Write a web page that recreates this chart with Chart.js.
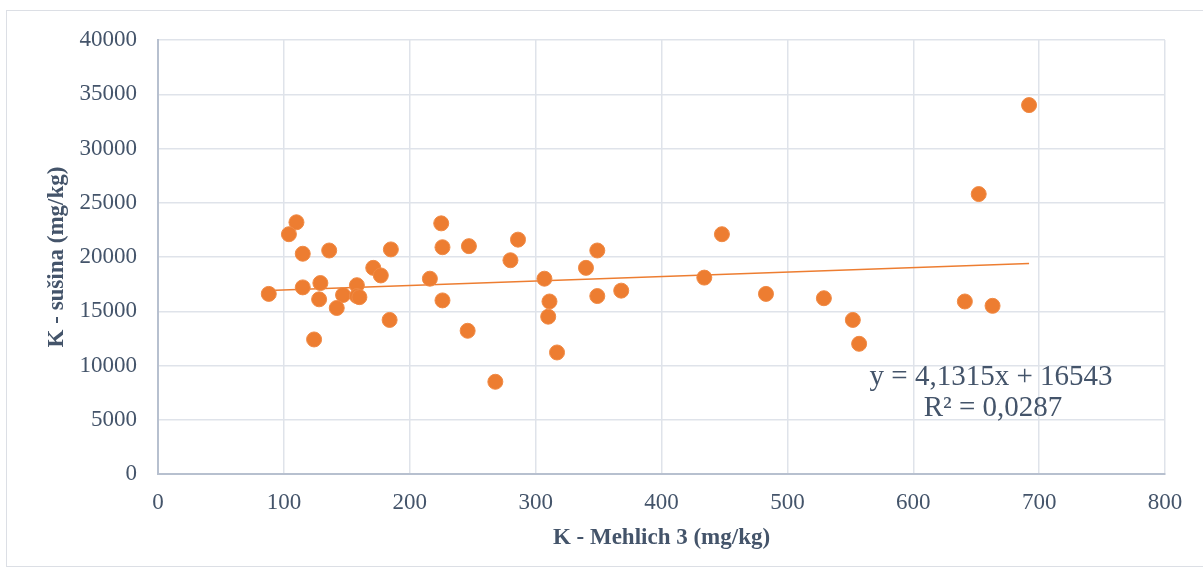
<!DOCTYPE html>
<html>
<head>
<meta charset="utf-8">
<script src="https://cdn.jsdelivr.net/npm/chart.js@4"></script>
<style>
  html, body { margin: 0; padding: 0; background: #fff; overflow: hidden; }
  #wrap { position: absolute; left: 0; top: 0; width: 1203px; height: 576px; overflow: hidden; }
  #frame { position: absolute; left: 6px; top: 10px; width: 1205px; height: 555px; border: 1px solid #dcdfe5; }
  canvas { position: absolute; left: 0; top: 0; }
</style>
</head>
<body>
<div id="wrap">
  <div id="frame"></div>
  <canvas id="chart" width="1203" height="576"></canvas>
</div>
<script>
// K - Mehlich 3 (mg/kg)
const xVals = [88, 110, 104, 115, 136, 185, 225, 226, 247, 171, 177, 216, 115, 129, 158, 128, 147, 158, 160, 142,
  226, 184, 246, 124, 268, 286, 280, 307, 311, 310, 317, 340, 349, 349, 368, 434, 448, 692, 652, 483, 529, 552, 557, 641, 663];
// K - sušina (mg/kg)
const yVals = [16600, 23200, 22100, 20300, 20600, 20700, 23100, 20900, 21000, 19000, 18300, 18000, 17200, 17600, 17400, 16100, 16500, 16400, 16300, 15300,
  16000, 14200, 13200, 12400, 8500, 21600, 19700, 18000, 15900, 14500, 11200, 19000, 20600, 16400, 16900, 18100, 22100, 34000, 25800, 16600, 16200, 14200, 12000, 15900, 15500];

// linear trend from the chart's equation
const trendSlope = 4.1315;
const trendIntercept = 16543;
const trendLabel = ['y = 4,1315x + 16543', 'R² = 0,0287'];

const xTicks = [0, 100, 200, 300, 400, 500, 600, 700, 800];
const yTicks = [0, 5000, 10000, 15000, 20000, 25000, 30000, 35000, 40000];

const ORANGE = '#ED7D31';
const TEXT = '#44546A';
const GRID = '#dfe3ea';
const AXIS = '#b7c0cf';
const SERIF = "'Liberation Serif', 'Times New Roman', serif";

const points = xVals.map((x, i) => ({ x, y: yVals[i] }));
const xMin = Math.min(...xVals);
const xMax = Math.max(...xVals);
const trend = [xMin, xMax].map(x => ({ x, y: trendSlope * x + trendIntercept }));

// equation text next to the trend line
const eqPlugin = {
  id: 'eqText',
  afterDatasetsDraw(chart) {
    const ctx = chart.ctx;
    ctx.save();
    ctx.fillStyle = TEXT;
    ctx.font = '29px ' + SERIF;
    ctx.textAlign = 'center';
    ctx.textBaseline = 'middle';
    ctx.fillText(trendLabel[0], 991, 377);
    ctx.fillText(trendLabel[1], 993, 408);
    ctx.restore();
  }
};

new Chart(document.getElementById('chart'), {
  type: 'scatter',
  data: {
    datasets: [
      {
        label: 'points',
        data: points,
        backgroundColor: ORANGE,
        borderColor: '#f08a45',
        borderWidth: 1,
        pointRadius: 7.5,
        order: 1
      },
      {
        label: 'trend',
        type: 'line',
        data: trend,
        borderColor: ORANGE,
        borderWidth: 1.5,
        pointRadius: 0,
        fill: false,
        order: 2
      }
    ]
  },
  options: {
    responsive: false,
    animation: false,
    layout: { padding: { left: 0, right: 38, top: 40, bottom: 0 } },
    plugins: {
      legend: { display: false },
      tooltip: { enabled: false }
    },
    scales: {
      x: {
        type: 'linear',
        min: 0,
        max: 800,
        afterBuildTicks: s => { s.ticks = xTicks.map(v => ({ value: v })); },
        afterFit: s => { s.height = 102; },
        grid: { color: GRID, lineWidth: 1.5, drawTicks: false },
        border: { color: AXIS, width: 2 },
        ticks: { color: TEXT, font: { family: SERIF, size: 23 }, padding: 15, callback: v => String(v) },
        title: {
          display: true,
          text: 'K - Mehlich 3 (mg/kg)',
          color: TEXT,
          font: { family: SERIF, size: 23, weight: 'bold' },
          padding: { top: 0, bottom: 24 }
        }
      },
      y: {
        min: 0,
        max: 40000,
        afterBuildTicks: s => { s.ticks = yTicks.map(v => ({ value: v })); },
        afterFit: s => { s.width = 158; },
        grid: { color: GRID, lineWidth: 1.5, drawTicks: false },
        border: { color: AXIS, width: 2 },
        ticks: { color: TEXT, font: { family: SERIF, size: 23 }, padding: 21, callback: v => String(v) },
        title: {
          display: true,
          text: 'K - sušina (mg/kg)',
          color: TEXT,
          font: { family: SERIF, size: 23, weight: 'bold' },
          padding: { bottom: 0, top: 43 }
        }
      }
    }
  },
  plugins: [eqPlugin]
});
</script>
</body>
</html>
